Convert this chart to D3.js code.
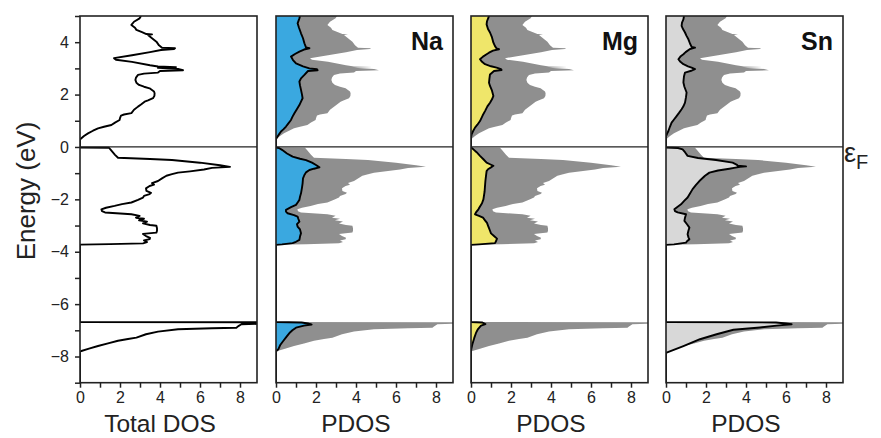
<!DOCTYPE html>
<html><head><meta charset="utf-8">
<script src="https://cdn.jsdelivr.net/npm/d3@7"></script>
<style>
body{margin:0;background:#fff}
svg{display:block}
text{font-family:"Liberation Sans",Arial,Helvetica,sans-serif}
</style>
</head><body>
<svg id="c" width="881" height="438"></svg>
<script>
// ---- data: [energy (eV), DOS] ----
const totalDOS = [[5.0,3.05],[4.91,2.98],[4.78,2.7],[4.66,2.57],[4.55,2.75],[4.47,2.82],[4.38,3.1],[4.31,3.32],[4.3,3.6],[4.27,3.4],[4.15,3.6],[4.02,3.82],[3.88,3.95],[3.79,4.1],[3.77,4.75],[3.74,4.7],[3.70,4.05],[3.62,3.5],[3.5,2.6],[3.39,1.7],[3.33,1.8],[3.25,2.6],[3.12,3.5],[3.07,3.9],[3.05,4.8],[3.02,3.9],[2.98,4.9],[2.93,5.15],[2.9,4.0],[2.84,3.9],[2.8,3.2],[2.75,2.9],[2.65,2.8],[2.56,2.77],[2.45,2.82],[2.37,2.95],[2.3,3.2],[2.24,3.48],[2.12,3.7],[2.05,3.73],[1.95,3.72],[1.86,3.65],[1.78,3.4],[1.73,3.23],[1.62,3.05],[1.54,2.9],[1.42,2.7],[1.29,2.57],[1.24,2.2],[1.2,2.05],[1.1,2.0],[1.03,1.98],[0.93,1.75],[0.84,1.57],[0.77,1.2],[0.71,0.9],[0.62,0.65],[0.52,0.4],[0.42,0.2],[0.33,0.07],[0.3,0],
[-0.02,0],[-0.03,1.45],[-0.12,1.55],[-0.3,1.75],[-0.41,1.9],[-0.46,3.5],[-0.5,4.6],[-0.6,6.0],[-0.7,7.0],[-0.76,7.5],[-0.8,6.6],[-0.86,6.2],[-0.93,5.5],[-0.98,4.9],[-1.04,4.6],[-1.1,4.32],[-1.2,4.1],[-1.3,3.9],[-1.38,3.6],[-1.44,3.7],[-1.49,3.48],[-1.58,3.3],[-1.68,3.32],[-1.75,3.55],[-1.8,3.48],[-1.87,3.2],[-1.93,3.15],[-2.02,2.9],[-2.12,2.57],[-2.18,2.1],[-2.25,1.73],[-2.32,1.3],[-2.38,1.07],[-2.45,1.1],[-2.5,1.25],[-2.55,2.2],[-2.57,2.57],[-2.63,2.98],[-2.7,2.8],[-2.74,3.2],[-2.8,2.95],[-2.85,3.35],[-2.92,3.15],[-2.98,3.5],[-3.01,3.82],[-3.1,3.85],[-3.2,3.85],[-3.27,3.82],[-3.32,3.15],[-3.4,3.3],[-3.47,3.5],[-3.52,3.48],[-3.57,3.2],[-3.63,3.35],[-3.68,3.15],[-3.71,1.5],[-3.73,0],
[-6.68,0],[-6.70,15],[-6.74,9.5],[-6.77,8.07],[-6.85,7.9],[-6.9,7.82],[-6.92,6.6],[-6.96,4.9],[-7.05,3.9],[-7.15,3.3],[-7.28,2.82],[-7.33,2.4],[-7.4,1.9],[-7.5,1.4],[-7.6,0.9],[-7.7,0.45],[-7.79,0.07],[-7.82,0],[-9,0]];

const naPDOS = [[5.0,1.2],[4.91,1.17],[4.72,1.08],[4.55,1.15],[4.34,1.25],[4.15,1.35],[3.96,1.42],[3.8,1.5],[3.77,1.67],[3.72,1.4],[3.64,1.17],[3.55,0.95],[3.45,0.75],[3.32,0.85],[3.19,1.0],[3.08,1.35],[3.0,1.67],[2.97,2.05],[2.93,2.08],[2.9,1.6],[2.75,1.42],[2.62,1.25],[2.5,1.17],[2.35,1.2],[2.18,1.25],[2.0,1.3],[1.86,1.33],[1.73,1.25],[1.6,1.17],[1.45,1.05],[1.29,0.92],[1.15,0.82],[1.03,0.75],[0.9,0.62],[0.78,0.5],[0.68,0.38],[0.59,0.25],[0.48,0.15],[0.4,0.08],[0.3,0],
[-0.02,0],[-0.04,0.15],[-0.11,0.3],[-0.25,0.55],[-0.37,0.83],[-0.45,1.2],[-0.5,1.5],[-0.6,1.8],[-0.69,2.0],[-0.78,2.17],[-0.83,1.9],[-0.88,1.67],[-0.97,1.5],[-1.07,1.42],[-1.2,1.35],[-1.39,1.33],[-1.55,1.3],[-1.77,1.25],[-1.9,1.2],[-2.02,1.17],[-2.1,1.1],[-2.21,1.0],[-2.3,0.75],[-2.4,0.5],[-2.47,0.5],[-2.53,0.58],[-2.6,0.9],[-2.66,1.08],[-2.75,1.12],[-2.85,1.17],[-2.95,1.05],[-3.04,1.08],[-3.15,1.2],[-3.29,1.25],[-3.42,1.2],[-3.55,1.17],[-3.62,1.0],[-3.67,0.83],[-3.72,0.3],[-3.74,0],
[-6.68,0],[-6.70,1.28],[-6.74,1.6],[-6.78,1.78],[-6.82,1.4],[-6.9,1.0],[-7.0,0.82],[-7.08,0.7],[-7.25,0.52],[-7.4,0.37],[-7.55,0.22],[-7.72,0.12],[-7.8,0],[-9,0]];

const mgPDOS = [[5.0,0.9],[4.94,0.87],[4.8,0.8],[4.68,0.78],[4.5,0.85],[4.37,0.95],[4.18,1.05],[3.98,1.12],[3.85,1.2],[3.76,1.28],[3.73,1.4],[3.68,1.1],[3.6,0.9],[3.54,0.78],[3.45,0.6],[3.35,0.45],[3.25,0.55],[3.16,0.7],[3.08,1.0],[3.03,1.28],[2.97,1.5],[2.94,1.53],[2.9,1.15],[2.77,0.95],[2.6,0.92],[2.45,0.9],[2.33,0.95],[2.15,1.05],[1.95,1.12],[1.82,1.05],[1.69,0.95],[1.55,0.82],[1.37,0.7],[1.2,0.58],[0.99,0.45],[0.85,0.32],[0.74,0.2],[0.6,0.1],[0.48,0.03],[0.35,0],
[-0.02,0],[-0.04,0.05],[-0.09,0.12],[-0.2,0.28],[-0.34,0.45],[-0.47,0.62],[-0.6,0.78],[-0.66,0.95],[-0.72,1.12],[-0.78,1.0],[-0.85,0.85],[-0.92,0.78],[-1.1,0.75],[-1.3,0.72],[-1.49,0.7],[-1.7,0.68],[-2.0,0.62],[-2.15,0.55],[-2.27,0.45],[-2.38,0.37],[-2.5,0.25],[-2.57,0.2],[-2.63,0.4],[-2.7,0.6],[-2.8,0.7],[-2.9,0.8],[-3.0,0.85],[-3.1,0.9],[-3.2,0.95],[-3.3,1.0],[-3.4,1.15],[-3.5,1.3],[-3.6,1.25],[-3.67,1.2],[-3.72,0.4],[-3.74,0],
[-6.68,0],[-6.70,0.55],[-6.76,0.72],[-6.82,0.5],[-6.95,0.35],[-7.1,0.25],[-7.3,0.16],[-7.5,0.08],[-7.7,0.02],[-7.78,0],[-9,0]];

const snPDOS = [[5.0,0.9],[4.87,0.87],[4.75,0.8],[4.62,0.78],[4.5,0.85],[4.37,0.95],[4.25,1.02],[4.11,1.12],[3.95,1.2],[3.82,1.28],[3.79,1.45],[3.74,1.2],[3.62,0.98],[3.54,0.87],[3.45,0.72],[3.35,0.62],[3.25,0.72],[3.16,0.87],[3.08,1.1],[3.03,1.28],[2.97,1.45],[2.92,1.3],[2.84,0.95],[2.7,0.9],[2.56,0.88],[2.46,0.87],[2.3,0.92],[2.08,1.03],[1.9,1.0],[1.69,0.95],[1.55,0.87],[1.44,0.78],[1.3,0.65],[1.18,0.53],[1.05,0.4],[0.93,0.28],[0.78,0.2],[0.61,0.12],[0.5,0.05],[0.4,0],
[-0.02,0],[-0.04,0.6],[-0.09,0.83],[-0.2,0.95],[-0.34,1.08],[-0.42,1.6],[-0.5,2.5],[-0.6,3.33],[-0.68,3.55],[-0.72,3.58],[-0.74,4.0],[-0.76,3.7],[-0.8,3.4],[-0.83,3.17],[-0.9,2.6],[-0.98,2.17],[-1.1,1.95],[-1.3,1.67],[-1.45,1.5],[-1.61,1.33],[-1.78,1.2],[-1.93,1.08],[-2.05,0.92],[-2.19,0.75],[-2.3,0.55],[-2.38,0.42],[-2.45,0.45],[-2.5,0.58],[-2.57,1.0],[-2.7,0.95],[-2.82,0.92],[-2.95,1.05],[-3.08,1.17],[-3.2,1.12],[-3.33,1.08],[-3.45,1.12],[-3.52,1.17],[-3.6,1.05],[-3.65,1.0],[-3.72,0.4],[-3.74,0],
[-6.68,0],[-6.70,5.5],[-6.74,6.0],[-6.77,6.28],[-6.8,5.8],[-6.82,5.53],[-6.89,4.7],[-6.98,3.37],[-7.15,2.53],[-7.34,1.7],[-7.6,0.87],[-7.85,0.03],[-7.88,0],[-9,0]];

const panelNames = ["", "Na", "Mg", "Sn"];
const panelSeries = [null, naPDOS, mgPDOS, snPDOS];
const xAxisTitles = ["Total DOS", "PDOS", "PDOS", "PDOS"];
const yTickValues = d3.range(-9, 6);
const xTickValues = d3.range(0, 9);
const yTitle = "Energy (eV)";

// ---- styling / layout ----
const fills = [null, "#3aa8e0", "#efe66a", "#d8d8d8"];
const grayFill = "#8f8f8f";
const panelLeft = [80, 276, 471, 666];
const panelW = 177, plotTop = 16, plotBottom = 382.7;

const svg = d3.select("#c");
const y = d3.scaleLinear().domain([-9, 5]).range([plotBottom, plotTop]);
const fmt = d3.format("d");

panelLeft.forEach((L, i) => {
  const x = d3.scaleLinear().domain([0, 8.85]).range([L, L + panelW]);
  const g = svg.append("g");
  const cid = "clip" + i;
  svg.append("clipPath").attr("id", cid).append("rect")
    .attr("x", L).attr("y", plotTop).attr("width", panelW).attr("height", plotBottom - plotTop);
  const plot = g.append("g").attr("clip-path", `url(#${cid})`);
  const area = d3.area().y(d => y(d[0])).x0(x(0)).x1(d => x(d[1]));
  const line = d3.line().y(d => y(d[0])).x(d => x(d[1]));
  if (i === 0) {
    plot.append("path").attr("d", line(totalDOS)).attr("fill", "none")
      .attr("stroke", "#000").attr("stroke-width", 1.9).attr("stroke-linejoin", "round");
  } else {
    plot.append("path").attr("d", area(totalDOS)).attr("fill", grayFill);
    plot.append("path").attr("d", area(panelSeries[i])).attr("fill", fills[i]);
    plot.append("path").attr("d", line(panelSeries[i])).attr("fill", "none")
      .attr("stroke", "#000").attr("stroke-width", 1.9).attr("stroke-linejoin", "round");
  }
  // Fermi level
  g.append("line").attr("x1", x(0)).attr("x2", L + panelW).attr("y1", y(0)).attr("y2", y(0))
    .attr("stroke", "#222").attr("stroke-width", 1.3);
  // frame
  g.append("rect").attr("x", L).attr("y", plotTop).attr("width", panelW).attr("height", plotBottom - plotTop)
    .attr("fill", "none").attr("stroke", "#222").attr("stroke-width", 1.6);
  // x axis
  const xa = g.append("g").attr("transform", `translate(0,${plotBottom})`)
    .call(d3.axisBottom(x).tickValues(xTickValues).tickSize(5).tickPadding(4)
      .tickFormat(d => d % 2 === 0 ? fmt(d) : ""));
  xa.select(".domain").remove();
  xa.selectAll("line").attr("stroke", "#222").attr("stroke-width", 1.5);
  xa.selectAll("text").attr("font-size", 16).attr("fill", "#222")
    .attr("font-family", '"Liberation Sans",Arial,sans-serif');
  g.append("text").attr("x", x(4)).attr("y", 432).attr("text-anchor", "middle")
    .attr("font-size", 24.5).attr("fill", "#222").text(xAxisTitles[i]);
  if (panelNames[i]) {
    g.append("text").attr("x", L + panelW - 10).attr("y", 50).attr("text-anchor", "end")
      .attr("font-size", 25).attr("font-weight", "bold").attr("fill", "#111").text(panelNames[i]);
  }
  if (i === 0) {
    const ya = g.append("g").attr("transform", `translate(${L},0)`)
      .call(d3.axisLeft(y).tickValues(yTickValues).tickSize(5).tickPadding(6)
        .tickFormat(d => d % 2 === 0 ? fmt(d) : ""));
    ya.select(".domain").remove();
    ya.selectAll("line").attr("stroke", "#222").attr("stroke-width", 1.5);
    ya.selectAll("text").attr("font-size", 16).attr("fill", "#222")
      .attr("font-family", '"Liberation Sans",Arial,sans-serif');
  }
});

svg.append("text").attr("transform", "translate(35,191) rotate(-90)")
  .attr("text-anchor", "middle").attr("font-size", 26).attr("fill", "#222").text(yTitle);

const ef = svg.append("text").attr("x", 844).attr("y", 162).attr("fill", "#222");
ef.append("tspan").attr("font-size", 27).text("ε");
ef.append("tspan").attr("font-size", 20).attr("dy", 7).text("F");
</script>
</body></html>
